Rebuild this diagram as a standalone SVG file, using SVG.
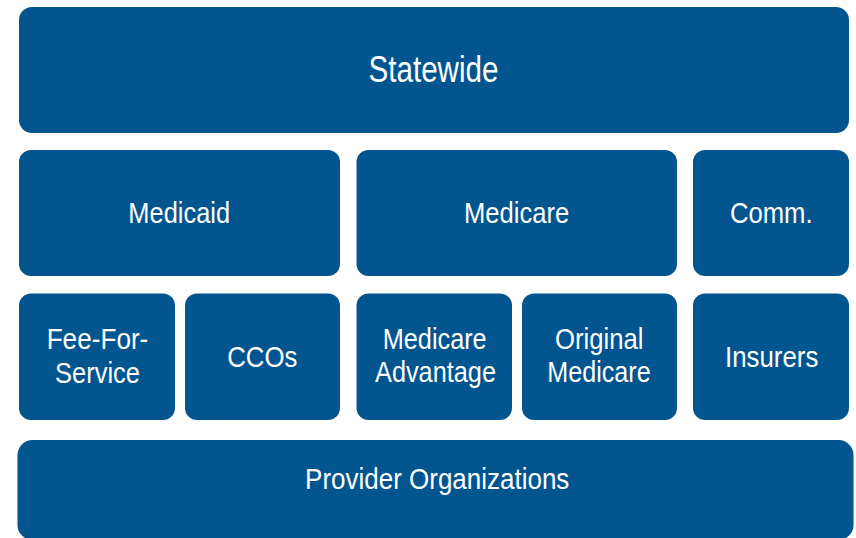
<svg xmlns="http://www.w3.org/2000/svg" width="856" height="538" viewBox="0 0 856 538">
<style>
.box{fill:#02558f}
.t{fill:#ffffff;font-family:"Liberation Sans",Arial,sans-serif;font-size:30px;text-anchor:middle}
.big{font-size:36px}
</style>
<rect width="856" height="538" fill="#ffffff"/>
<g id="statewide"><rect class="box" x="19" y="7" width="830" height="126" rx="13"/><text class="t big" x="433.5" y="81.7" textLength="130" lengthAdjust="spacingAndGlyphs">Statewide</text></g>
<g id="medicaid"><rect class="box" x="19" y="150" width="321" height="126" rx="12"/><text class="t" x="179.2" y="223.3" textLength="101.7" lengthAdjust="spacingAndGlyphs">Medicaid</text></g>
<g id="medicare"><rect class="box" x="356.5" y="150" width="320.5" height="126" rx="12"/><text class="t" x="516.7" y="223.3" textLength="105.3" lengthAdjust="spacingAndGlyphs">Medicare</text></g>
<g id="comm"><rect class="box" x="693" y="150" width="156" height="126" rx="12"/><text class="t" x="771.3" y="223.3" textLength="82.7" lengthAdjust="spacingAndGlyphs">Comm.</text></g>
<g id="ffs"><rect class="box" x="19" y="293.5" width="156" height="126.5" rx="12"/><text class="t" x="97.5" y="349.3" textLength="101.7" lengthAdjust="spacingAndGlyphs">Fee-For-</text><text class="t" x="97.5" y="383" textLength="85" lengthAdjust="spacingAndGlyphs">Service</text></g>
<g id="ccos"><rect class="box" x="185" y="293.5" width="155" height="126.5" rx="12"/><text class="t" x="262.3" y="366.7" textLength="70" lengthAdjust="spacingAndGlyphs">CCOs</text></g>
<g id="medicare-advantage"><rect class="box" x="356.5" y="293.5" width="155.5" height="126.5" rx="12"/><text class="t" x="434.7" y="349.3" textLength="104" lengthAdjust="spacingAndGlyphs">Medicare</text><text class="t" x="435.5" y="382" textLength="121" lengthAdjust="spacingAndGlyphs">Advantage</text></g>
<g id="original-medicare"><rect class="box" x="522" y="293.5" width="155" height="126.5" rx="12"/><text class="t" x="599.2" y="349.3" textLength="88.3" lengthAdjust="spacingAndGlyphs">Original</text><text class="t" x="599" y="382" textLength="103.3" lengthAdjust="spacingAndGlyphs">Medicare</text></g>
<g id="insurers"><rect class="box" x="693" y="293.5" width="156" height="126.5" rx="12"/><text class="t" x="771.7" y="367.3" textLength="93.3" lengthAdjust="spacingAndGlyphs">Insurers</text></g>
<g id="provider-organizations"><rect class="box" x="17.5" y="440" width="836" height="100" rx="15"/><text class="t" x="437.2" y="489.3" textLength="264.3" lengthAdjust="spacingAndGlyphs">Provider Organizations</text></g>
<g id="connectors"></g>
</svg>
